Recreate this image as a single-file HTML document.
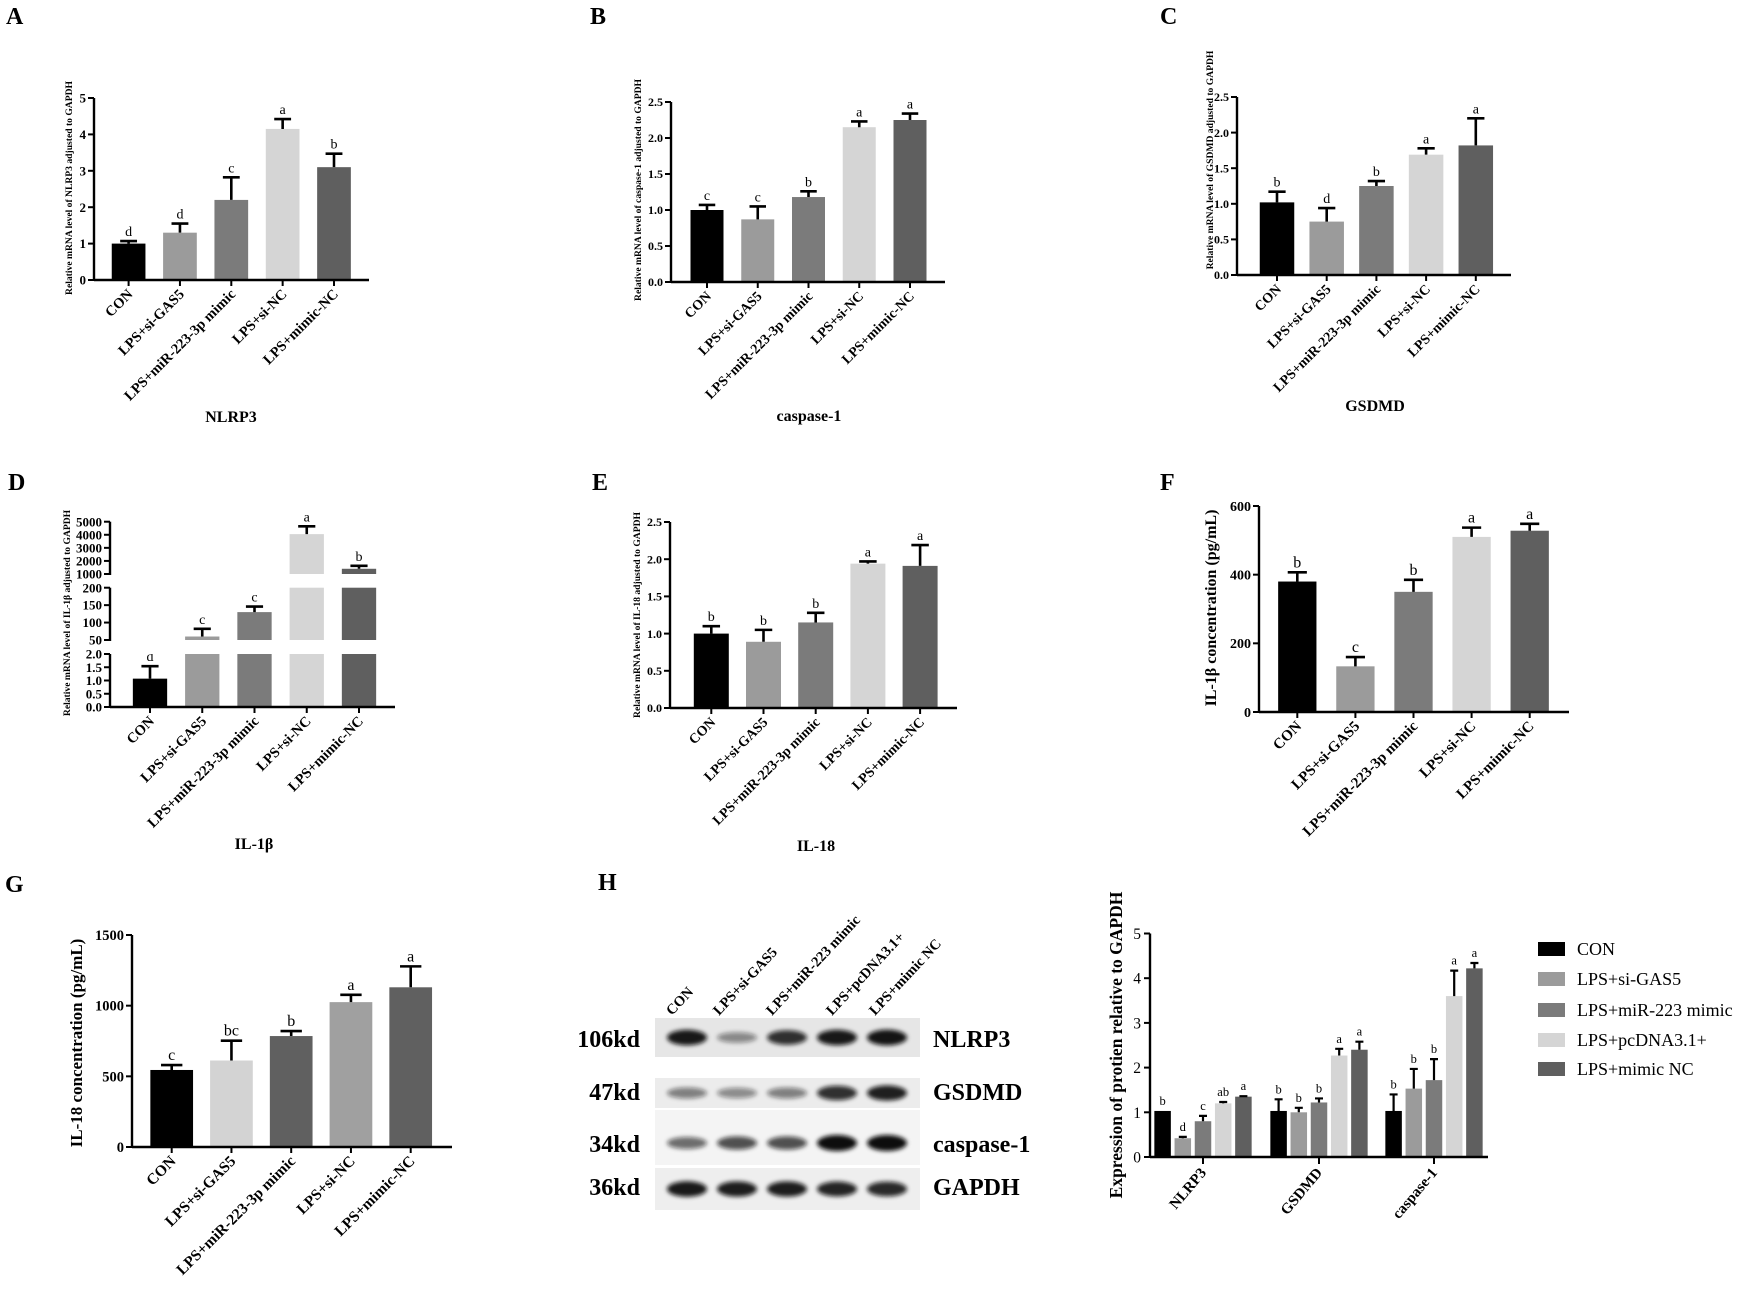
<!DOCTYPE html>
<html><head><meta charset="utf-8">
<style>
html,body{margin:0;padding:0;background:#fff;}
svg{display:block;font-family:"Liberation Serif",serif;font-weight:bold;}
</style></head>
<body>
<svg id="fig" width="1747" height="1289" viewBox="0 0 1747 1289" xmlns="http://www.w3.org/2000/svg">
<defs><filter id="blur" x="-20%" y="-50%" width="140%" height="200%"><feGaussianBlur stdDeviation="2.2"/></filter></defs>
</svg>
<script>
const catsMRNA=["CON","LPS+si-GAS5","LPS+miR-223-3p mimic","LPS+si-NC","LPS+mimic-NC"];
const colors5=["#000000","#9b9b9b","#7b7b7b","#d5d5d5","#5f5f5f"];
const colorsG=["#000000","#d3d3d3","#606060","#a0a0a0","#606060"];
const aValues=[1.0,1.3,2.2,4.15,3.1];
const aErrors=[0.07,0.25,0.62,0.27,0.37];
const aLetters=["d","d","c","a","b"];
const aTicks=[0,1,2,3,4,5];
const bValues=[1.0,0.87,1.18,2.15,2.25];
const bErrors=[0.07,0.18,0.08,0.08,0.09];
const bLetters=["c","c","b","a","a"];
const cValues=[1.02,0.75,1.25,1.69,1.82];
const cErrors=[0.15,0.19,0.07,0.09,0.38];
const cLetters=["b","d","b","a","a"];
const halfTicks=[0,0.5,1.0,1.5,2.0,2.5];
const halfTickLabels=["0.0","0.5","1.0","1.5","2.0","2.5"];
const dValues=[1.07,60,130,4050,1400];
const dErrors=[0.47,22,16,600,230];
const dLetters=["d","c","c","a","b"];
const dTicksLow=[0,0.5,1.0,1.5,2.0];
const dTickLabelsLow=["0.0","0.5","1.0","1.5","2.0"];
const dTicksMid=[50,100,150,200];
const dTicksHigh=[1000,2000,3000,4000,5000];
const eValues=[1.0,0.89,1.15,1.94,1.91];
const eErrors=[0.1,0.16,0.13,0.03,0.28];
const eLetters=["b","b","b","a","a"];
const fValues=[380,133,350,510,528];
const fErrors=[27,27,35,27,20];
const fLetters=["b","c","b","a","a"];
const fTicks=[0,200,400,600];
const gValues=[545,612,785,1025,1130];
const gErrors=[35,140,35,52,148];
const gLetters=["c","bc","b","a","a"];
const gTicks=[0,500,1000,1500];
const hGroups=["NLRP3","GSDMD","caspase-1"];
const hSeries=["CON","LPS+si-GAS5","LPS+miR-223 mimic","LPS+pcDNA3.1+","LPS+mimic NC"];
const hValues=[[1.03,0.42,0.8,1.2,1.35],[1.03,1.0,1.22,2.27,2.4],[1.03,1.53,1.72,3.6,4.22]];
const hErrors=[[0,0.03,0.12,0.03,0.01],[0.26,0.1,0.09,0.15,0.18],[0.37,0.44,0.47,0.57,0.12]];
const hLetters=[["b","d","c","ab","a"],["b","b","b","a","a"],["b","b","b","a","a"]];
const hTicks=[0,1,2,3,4,5];
const blotProteins=["NLRP3","GSDMD","caspase-1","GAPDH"];
const blotKd=["106kd","47kd","34kd","36kd"];
const blotIntensity=[[0.95,0.45,0.85,0.95,0.97],[0.5,0.45,0.5,0.85,0.92],[0.6,0.72,0.72,1.0,1.0],[0.95,0.93,0.93,0.9,0.88]];

const svg=document.getElementById('fig');
const NS="http://www.w3.org/2000/svg";
function mk(tag,attrs,parent){const e=document.createElementNS(NS,tag);for(const k in attrs)e.setAttribute(k,attrs[k]);(parent||svg).appendChild(e);return e;}
function txt(s,attrs,parent){const e=mk('text',attrs,parent);e.textContent=s;return e;}

function panelLetter(s,x,y){
  const t=txt(s,{x:x,y:y,'font-size':24});
  
  
}

function chart(o){
  const g=mk('g',{});
  
  
  const ys=o.yMap||(v=>o.y0-v/o.max*(o.y0-o.yTop));
  o.vals.forEach((v,i)=>{
    const c=o.c0+i*o.step;
    const yv=ys(v);
    const r=mk('rect',{x:c-o.w/2,y:yv,width:o.w,height:o.y0-yv,fill:o.cols[i]},g);
    
    
    const ye=ys(v+o.errs[i]);
    const eb=mk('path',{d:`M${c} ${yv}V${ye}M${c-o.w*0.25} ${ye}H${c+o.w*0.25}`,stroke:'#000','stroke-width':2.6,fill:'none'},g);
    
    
    const lt=txt(o.lets[i],{x:c,y:ye-5,'text-anchor':'middle','font-size':o.letFs,'font-weight':'normal'},g);
    
    
    mk('line',{x1:c,y1:o.y0,x2:c,y2:o.y0+6,stroke:'#000','stroke-width':2},g);
    const cl=txt(o.cats[i],{x:0,y:0,'text-anchor':'end','font-size':o.catFs,transform:`translate(${c+5},${o.y0+15}) rotate(-45)`},g);
    
    
  });
  if(o.gaps){
    o.gaps.forEach(gp=>{mk('rect',{x:o.axisX-8,y:gp[0],width:o.right-o.axisX+10,height:gp[1]-gp[0],fill:'#fff'},g);});
  }
  mk('line',{x1:o.axisX,y1:o.y0,x2:o.right,y2:o.y0,stroke:'#000','stroke-width':2.4},g);
  const segs=o.segs||[[o.y0,o.yTop]];
  segs.forEach(s=>mk('line',{x1:o.axisX,y1:s[0]+1,x2:o.axisX,y2:s[1],stroke:'#000','stroke-width':2.4},g));
  o.ticks.forEach((t,i)=>{
    const y=ys(t);
    mk('line',{x1:o.axisX-6,y1:y,x2:o.axisX,y2:y,stroke:'#000','stroke-width':2},g);
    const tl=txt(o.tickLabels?o.tickLabels[i]:String(t),{x:o.axisX-8,y:y+o.tickFs*0.35,'text-anchor':'end','font-size':o.tickFs},g);
    
    
  });
  const yt=txt(o.yTitle,{x:0,y:0,'text-anchor':'middle','font-size':o.yTitleFs,transform:`translate(${o.yTitleX},${o.yTitleY}) rotate(-90)`},g);
  
  
  if(o.title){
    const tt=txt(o.title,{x:o.titleX,y:o.titleY,'text-anchor':'middle','font-size':16},g);
    
    
  }
}

panelLetter('A',6,24);
chart({name:'chart-a-nlrp3',axisX:94,y0:280,yTop:98,max:5,right:369,c0:128.6,step:51.35,w:33.7,vals:aValues,errs:aErrors,lets:aLetters,cols:colors5,cats:catsMRNA,ticks:aTicks,tickFs:13,catFs:14.5,letFs:14,yTitle:'Relative mRNA level of NLRP3 adjusted to GAPDH',yTitleFs:9.6,yTitleX:72,yTitleY:188,title:'NLRP3',titleX:231,titleY:422});

panelLetter('B',590,24);
chart({name:'chart-b-caspase1',axisX:671,y0:282,yTop:102,max:2.5,right:945,c0:707,step:50.75,w:33,vals:bValues,errs:bErrors,lets:bLetters,cols:colors5,cats:catsMRNA,ticks:halfTicks,tickLabels:halfTickLabels,tickFs:12,catFs:14,letFs:14,yTitle:'Relative mRNA level of caspase-1 adjusted to GAPDH',yTitleFs:9.6,yTitleX:641,yTitleY:190,title:'caspase-1',titleX:809,titleY:421});

panelLetter('C',1160,24);
chart({name:'chart-c-gsdmd',axisX:1237,y0:275,yTop:97,max:2.5,right:1511,c0:1277,step:49.7,w:34.5,vals:cValues,errs:cErrors,lets:cLetters,cols:colors5,cats:catsMRNA,ticks:halfTicks,tickLabels:halfTickLabels,tickFs:12,catFs:14,letFs:14,yTitle:'Relative mRNA level of GSDMD adjusted to GAPDH',yTitleFs:9.6,yTitleX:1213,yTitleY:160,title:'GSDMD',titleX:1375,titleY:411});

panelLetter('D',8,490);
const dMap=v=>{
  if(v<=2) return 707-v/2*(707-654);
  if(v<=200) return 640-(Math.max(v,50)-50)/150*(640-587.7);
  return 574-(Math.max(v,1000)-1000)/4000*(574-521.7);
};
chart({name:'chart-d-il1b',axisX:110,y0:707,yTop:521.7,yMap:dMap,right:395,c0:150,step:52.25,w:34.3,vals:dValues,errs:dErrors,lets:dLetters,cols:colors5,cats:catsMRNA,
  ticks:dTicksLow.concat(dTicksMid,dTicksHigh),tickLabels:dTickLabelsLow.concat(dTicksMid.map(String),dTicksHigh.map(String)),
  gaps:[[640,654],[574,587.7]],segs:[[707,654],[640,587.7],[574,521.7]],tickFs:13,catFs:14.5,letFs:14,yTitle:'Relative mRNA level of IL-1β adjusted to GAPDH',yTitleFs:9.6,yTitleX:70,yTitleY:613,title:'IL-1β',titleX:254,titleY:849});

panelLetter('E',592,490);
chart({name:'chart-e-il18',axisX:670,y0:708,yTop:522,max:2.5,right:957,c0:711.3,step:52.2,w:35,vals:eValues,errs:eErrors,lets:eLetters,cols:colors5,cats:catsMRNA,ticks:halfTicks,tickLabels:halfTickLabels,tickFs:12,catFs:14,letFs:14,yTitle:'Relative mRNA level of IL-18 adjusted to GAPDH',yTitleFs:9.6,yTitleX:640,yTitleY:615,title:'IL-18',titleX:816,titleY:851});

panelLetter('F',1160,490);
chart({name:'chart-f-il1b-concentration',axisX:1259,y0:712,yTop:506,max:600,right:1569,c0:1297.3,step:58.1,w:38.3,vals:fValues,errs:fErrors,lets:fLetters,cols:colors5,cats:catsMRNA,ticks:fTicks,tickFs:14,catFs:15,letFs:16,yTitle:'IL-1β concentration (pg/mL)',yTitleFs:16,yTitleX:1216,yTitleY:608});

panelLetter('G',5,892);
chart({name:'chart-g-il18-concentration',axisX:132,y0:1147,yTop:935,max:1500,right:452,c0:171.7,step:59.75,w:42.7,vals:gValues,errs:gErrors,lets:gLetters,cols:colorsG,cats:catsMRNA,ticks:gTicks,tickFs:14.5,catFs:15.5,letFs:16,yTitle:'IL-18 concentration (pg/mL)',yTitleFs:17,yTitleX:82,yTitleY:1043});

panelLetter('H',598,890);
const blot=mk('g',{});


const rowTop=[1018,1078,1110,1168],rowBot=[1057,1108,1165,1210],rowBg=["#e6e6e6","#ececec","#f4f4f4","#eeeeee"];
const lanes=[687,737,787,837,887];
blotProteins.forEach((p,r)=>{
  mk('rect',{x:655,y:rowTop[r],width:265,height:rowBot[r]-rowTop[r],fill:rowBg[r]},blot);
  const cy=(r==2)?1143:(rowTop[r]+rowBot[r])/2;
  blotIntensity[r].forEach((v,i)=>{
    const b=mk('ellipse',{cx:lanes[i],cy:cy,rx:20,ry:3+v*5,fill:'#111','fill-opacity':v,filter:'url(#blur)'},blot);
    
    
  });
});
const kdBase=[1047,1100,1152,1195];
blotKd.forEach((k,r)=>{
  const t=txt(k,{x:640,y:kdBase[r],'text-anchor':'end','font-size':24},blot);
  
  
  const p=txt(blotProteins[r],{x:933,y:kdBase[r],'font-size':24},blot);
  
  
});
const laneLabelX=[672,719,772,832,875];
hSeries.forEach((s,i)=>{
  const t=txt(s,{x:0,y:0,'font-size':14.5,transform:`translate(${laneLabelX[i]},1016) rotate(-47)`},blot);
  
  
});

const hg=mk('g',{});


const hx0=1150,hy0=1157,hyT=933.5,hR=1488,hMax=5;
const hys=v=>hy0-v/hMax*(hy0-hyT);
const hCenters=[1203,1319,1434],hW=16.5,hStep=20.2;
hValues.forEach((grp,gi)=>{
  grp.forEach((v,si)=>{
    const c=hCenters[gi]+(si-2)*hStep;
    const yv=hys(v);
    const r=mk('rect',{x:c-hW/2,y:yv,width:hW,height:hy0-yv,fill:colors5[si]},hg);
    
    
    const e=hErrors[gi][si];
    const ye=hys(v+e);
    let top=yv;
    if(e>0){
      const eb=mk('path',{d:`M${c} ${yv}V${ye}M${c-4} ${ye}H${c+4}`,stroke:'#000','stroke-width':2.2,fill:'none'},hg);
      
      
      top=ye;
    }
    const lt=txt(hLetters[gi][si],{x:c,y:top-6,'text-anchor':'middle','font-size':12.5,'font-weight':'normal'},hg);
    
    
  });
  mk('line',{x1:hCenters[gi],y1:hy0,x2:hCenters[gi],y2:hy0+7,stroke:'#000','stroke-width':2},hg);
  const cl=txt(hGroups[gi],{x:0,y:0,'text-anchor':'end','font-size':15,transform:`translate(${hCenters[gi]+4},${hy0+16}) rotate(-50)`},hg);
  
  
});
mk('line',{x1:hx0,y1:hy0,x2:hR,y2:hy0,stroke:'#000','stroke-width':2.4},hg);
mk('line',{x1:hx0,y1:hy0+1,x2:hx0,y2:hyT,stroke:'#000','stroke-width':2.4},hg);
hTicks.forEach(t=>{
  const y=hys(t);
  mk('line',{x1:hx0-6,y1:y,x2:hx0,y2:y,stroke:'#000','stroke-width':2},hg);
  const tl=txt(String(t),{x:hx0-9,y:y+5.5,'text-anchor':'end','font-size':15.5,'font-weight':'normal'},hg);
  
  
});
const hyt=txt('Expression of protien relative to GAPDH',{x:0,y:0,'text-anchor':'middle','font-size':17.5,transform:'translate(1122,1045) rotate(-90)'},hg);


const legY=[949,979,1010,1040,1069];
hSeries.forEach((s,i)=>{
  const lg=mk('g',{},hg);
  
  
  mk('rect',{x:1538,y:legY[i]-7,width:27,height:14,fill:colors5[i]},lg);
  const t=txt(s,{x:1577,y:legY[i]+6,'font-size':18,'font-weight':'normal'},lg);
  
  
});
</script>
</body></html>
